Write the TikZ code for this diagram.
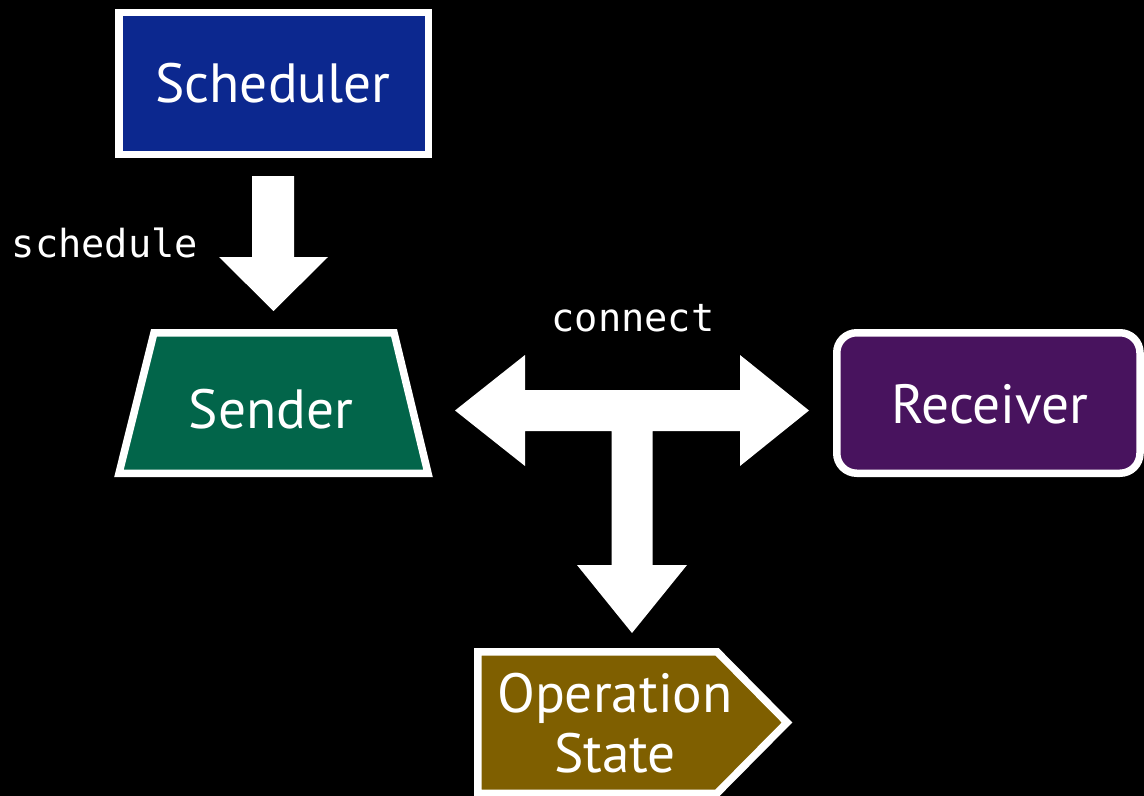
\documentclass[tikz,border=0pt]{standalone}
\usepackage{fontspec}
\setmainfont{PT Sans}
\newfontfamily\codefont{DejaVu Sans Mono}
\definecolor{schedblue}{HTML}{0C288F}
\definecolor{sendgreen}{HTML}{02654A}
\definecolor{recvpurple}{HTML}{48135E}
\definecolor{opbrown}{HTML}{7F5F00}
\begin{document}
\begin{tikzpicture}[x=1bp,y=-1bp,
  boxline/.style={draw=white,line width=7.5bp,line join=miter},
  boxtext/.style={text=white,font=\fontsize{55.5}{60}\selectfont,anchor=base,inner sep=0pt},
  codetext/.style={text=white,font=\codefont\fontsize{38.8}{42}\selectfont,anchor=base,inner sep=0pt},
  blockarrow/.style={fill=white,draw=none}]
\fill[black] (0,0) rectangle (1144,796);
\useasboundingbox (0,0) rectangle (1144,796);
% Scheduler
\draw[boxline,fill=schedblue] (118.75,12.75) rectangle (428.25,154.25);
\node[boxtext] (sched) at (273,103) {Scheduler};
% Sender
\draw[boxline,fill=sendgreen] (154,332.75) -- (394,332.75) -- (428,473.25) -- (119,473.25) -- cycle;
\node[boxtext] (send) at (271,428) {Sender};
% Receiver
\draw[boxline,fill=recvpurple,rounded corners=20bp] (836.75,332.75) rectangle (1140,473.25);
\node[boxtext] (recv) at (990,423) {Receiver};
% Operation State
\draw[boxline,fill=opbrown] (477.75,651.75) -- (717,651.75) -- (787,722.5) -- (717,793.25) -- (477.75,793.25) -- cycle;
\node[boxtext] (op1) at (615,712) {Operation};
\node[boxtext] (op2) at (615,772.5) {State};
% schedule arrow
\fill[blockarrow] (252,176) -- (294,176) -- (294,257) -- (328,257) -- (273.5,311) -- (219,257) -- (252,257) -- cycle;
\node[codetext] (lblsched) at (105,257) {schedule};
% connect T arrow
\fill[blockarrow] (455,410.5) -- (525,355) -- (525,390) -- (740,390) -- (740,355) -- (809,410.5)
  -- (740,466) -- (740,431) -- (652.5,431) -- (652.5,565) -- (687,565) -- (632,633)
  -- (577,565) -- (611.5,565) -- (611.5,431) -- (525,431) -- (525,466) -- cycle;
\node[codetext] (lblconn) at (633,331) {connect};
\end{tikzpicture}
\end{document}
